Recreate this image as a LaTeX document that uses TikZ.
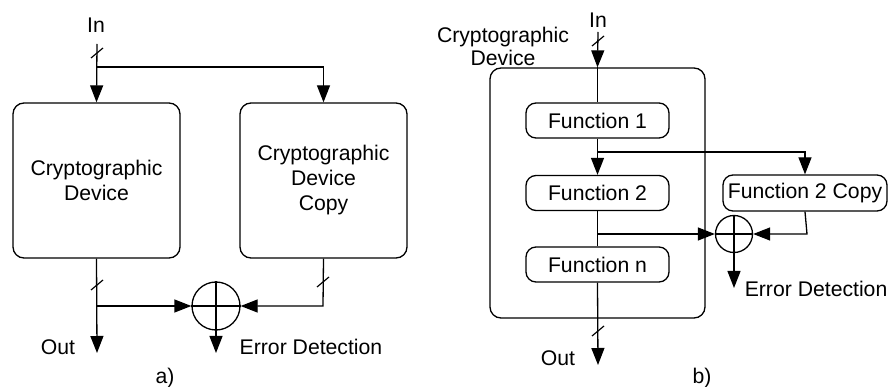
\documentclass[tikz,border=0pt]{standalone}
\usepackage{fontspec}
\setmainfont{Liberation Sans}
\usetikzlibrary{arrows.meta}
\begin{document}
\begin{tikzpicture}[x=1pt,y=-1pt,
  line width=1.3pt,
  >={Triangle[length=17pt,width=13pt]},
  every node/.style={font=\fontsize{21.2}{25}\selectfont, inner sep=0pt, align=center},
  devbox/.style={draw, rounded corners=11pt, minimum width=167pt, minimum height=155pt},
  outerbox/.style={draw, rounded corners=11pt, minimum width=215pt, minimum height=250pt},
  funbox/.style={draw, rounded corners=10pt, minimum width=143pt, minimum height=35pt},
  xorc/.style={draw, circle, minimum size=#1},
  slash/.style={line width=1.2pt}]
\useasboundingbox (0,0) rectangle (889,387);

% ---------- panel a ----------
\node (inA) at (96,25) {In};
\coordinate (topA) at (97,44);
\coordinate (brA) at (97,67);
\node[devbox] (devA) at (96.5,180.5) {Cryptographic\\Device};
\node[devbox] (copyA) at (323.5,180.5) {Cryptographic\\Device\\Copy};
\node[xorc=48pt] (xorA) at (216,306) {};
\coordinate (jA) at (97,306);
\coordinate (outA) at (97,353);
\coordinate (edA) at (216,353);
\coordinate (cjA) at (323,306);
\coordinate (s1) at (97,53);
\coordinate (s2) at (97,285);
\coordinate (s3) at (323,282);

\draw[->] (topA) -- (devA.north);
\draw[->] (brA) -| (copyA.north);
\draw[->] (devA.south) -- (outA);
\draw[->] (jA) -- (xorA.west);
\draw[->] (copyA.south) -- (cjA) -- (xorA.east);
\draw (xorA.north) -- (xorA.south);
\draw (xorA.west) -- (xorA.east);
\draw[->] (xorA.south) -- (edA);
\foreach \s in {s1,s2,s3}
  \draw[slash] ([shift={(-6,5)}]\s) -- ([shift={(6,-5)}]\s);

\node (outlA) at (58,347) {Out};
\node (errA) at (311,347) {Error Detection};
\node (capA) at (165,378) {a)};

% ---------- panel b ----------
\node (inB) at (598,20) {In};
\node[font=\fontsize{21.2}{23}\selectfont] (cdB) at (503,46.5) {Cryptographic\\Device};
\coordinate (topB) at (598,32);
\node[outerbox] (devB) at (597.5,193) {};
\node[funbox] (f1) at (597.5,120.5) {Function 1};
\node[funbox] (f2) at (597.5,193) {Function 2};
\node[funbox] (fn) at (597.5,264.5) {Function n};
\node[draw, rounded corners=10pt, minimum width=164pt, minimum height=36pt] (f2c) at (805,193) {Function 2 Copy};
\node[xorc=37pt] (xorB) at (734,234) {};
\coordinate (brB) at (598,152);
\coordinate (jB) at (598,234);
\coordinate (cjB) at (807,234);
\coordinate (outB) at (598,365);
\coordinate (edB) at (734,288);
\coordinate (t1) at (598,41);
\coordinate (t2) at (598,331);

\draw[->] (topB) -- (devB.north);
\draw (devB.north) -- (f1.north);
\draw[->] (f1.south) -- (f2.north);
\draw[->] (brB) -| (f2c.north);
\draw (f2.south) -- (fn.north);
\draw[->] (jB) -- (xorB.west);
\draw[->] (f2c.south) -- (cjB) -- (xorB.east);
\draw (xorB.north) -- (xorB.south);
\draw (xorB.west) -- (xorB.east);
\draw[->] (xorB.south) -- (edB);
\draw[->] (fn.south) -- (outB);
\foreach \s in {t1,t2}
  \draw[slash] ([shift={(-6,5)}]\s) -- ([shift={(6,-5)}]\s);

\node[anchor=east] (errB) at (888,289) {Error Detection};
\node (outlB) at (558,358) {Out};
\node (capB) at (702,378) {b)};
\end{tikzpicture}
\end{document}
